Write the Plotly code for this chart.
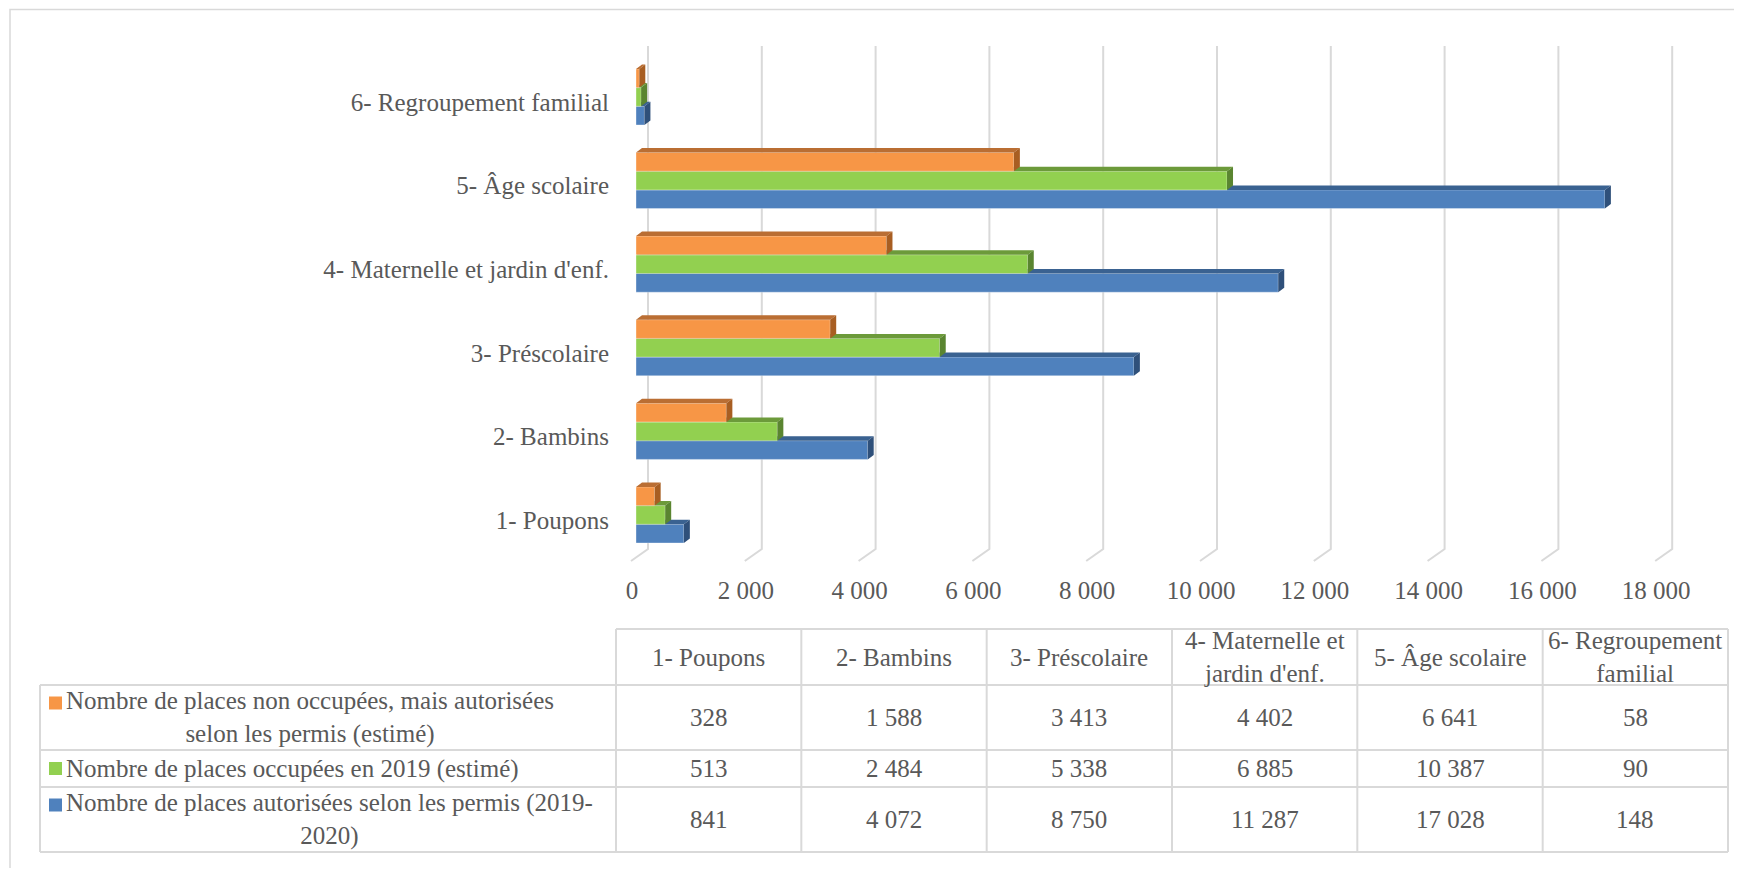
import plotly.graph_objects as go

# ---------------- data ----------------
categories = ["1- Poupons", "2- Bambins", "3- Préscolaire",
              "4- Maternelle et jardin d'enf.", "5- Âge scolaire",
              "6- Regroupement familial"]
table_headers = ["1- Poupons", "2- Bambins", "3- Préscolaire",
                 "4- Maternelle et<br>jardin d'enf.", "5- Âge scolaire",
                 "6- Regroupement<br>familial"]
places_non_occupees = [328, 1588, 3413, 4402, 6641, 58]
places_occupees = [513, 2484, 5338, 6885, 10387, 90]
places_autorisees = [841, 4072, 8750, 11287, 17028, 148]
series_names = [
    "Nombre de places non occupées, mais autorisées<br>selon les permis (estimé)",
    "Nombre de places occupées en 2019 (estimé)",
    "Nombre de places autorisées selon les permis (2019-<br>2020)",
]
x_ticks = [0, 2000, 4000, 6000, 8000, 10000, 12000, 14000, 16000, 18000]

# ---------------- style / layout constants ----------------
OFF = 8                      # page body margin
W, H = 1742 - 2 * OFF, 876 - 2 * OFF
FONT = "Liberation Serif"
FS = 25
TXT = "#595959"
GRID = "#D9D9D9"
X0, S = 636.0, 0.0569      # screen px of value 0 on bar front plane, px per unit
YC0, U = 515.0, 83.6       # screen px of cluster centre of first category, px per category


def xr(px):
    return (px - X0) / S


def yr(py):
    return (YC0 - py) / U


def pxf(px):
    return (px - OFF) / W


def pyf(py):
    return 1 - (py - OFF) / H


BH = 18.7 / U
DX, DY = 6.0 / S, 4.5 / U
series = [
    # values, offset, front, top, side
    (places_autorisees, -0.335, "#4F81BD", "#3A6291", "#2F507A"),
    (places_occupees, -0.335 + BH, "#92D050", "#6C9A3A", "#5A8530"),
    (places_non_occupees, -0.335 + 2 * BH, "#F79646", "#BA6E33", "#A85E22"),
]

fig = go.Figure()

# ---- 3D gridlines (back wall + floor slant) ----
gx, gy = [], []
for t in x_ticks:
    gx += [t + xr(631), t + xr(648), t + xr(648), None]
    gy += [yr(561), yr(549), yr(46), None]
fig.add_trace(go.Scatter(x=gx, y=gy, mode="lines", line=dict(color=GRID, width=2),
                         hoverinfo="skip", showlegend=False, xaxis="x", yaxis="y"))

# ---- bars with 3D faces, one overlay subplot per series ----
idx = list(range(len(categories)))
for k, (vals, off, cf, ct, cs) in enumerate(series):
    ax = str(k + 2)
    fig.add_trace(go.Bar(x=vals, y=idx, orientation="h", width=BH, offset=off,
                         marker=dict(color=cf, line=dict(color="rgba(255,255,255,0.35)", width=1)),
                         hoverinfo="skip", showlegend=False,
                         xaxis="x" + ax, yaxis="y" + ax))
    tx, ty, sx, sy = [], [], [], []
    for i, v in zip(idx, vals):
        yb = i + off
        yt = yb + BH
        tx += [0, v, v + DX, DX, 0, None]
        ty += [yt, yt, yt + DY, yt + DY, yt, None]
        sx += [v, v + DX, v + DX, v, v, None]
        sy += [yb, yb + DY, yt + DY, yt, yb, None]
    fig.add_trace(go.Scatter(x=tx, y=ty, fill="toself", fillcolor=ct, mode="lines",
                             line=dict(width=0, color=ct), hoverinfo="skip", showlegend=False,
                             xaxis="x" + ax, yaxis="y" + ax))
    fig.add_trace(go.Scatter(x=sx, y=sy, fill="toself", fillcolor=cs, mode="lines",
                             line=dict(width=0, color=cs), hoverinfo="skip", showlegend=False,
                             xaxis="x" + ax, yaxis="y" + ax))

# ---------------- axes ----------------
PL, PR, PT, PB = 614, 1732, 40, 566     # screen px of plot area
xdom = [pxf(PL), pxf(PR)]
ydom = [pyf(PB), pyf(PT)]
xrange_ = [xr(PL), xr(PR)]
yrange_ = [yr(PB), yr(PT)]

layout_axes = dict(
    xaxis=dict(domain=xdom, range=xrange_, showgrid=False, zeroline=False, showline=False,
               tickvals=x_ticks, ticktext=[f"{t:,}".replace(",", " ") for t in x_ticks],
               tickfont=dict(family=FONT, size=FS, color=TXT), ticks="",
               ticklabelshift=-4, ticklabelstandoff=7, fixedrange=True),
    yaxis=dict(domain=ydom, range=yrange_, showgrid=False, zeroline=False, showline=False,
               tickvals=idx, ticktext=categories,
               tickfont=dict(family=FONT, size=FS, color=TXT), ticks="",
               ticklabelshift=5, ticklabelstandoff=4, fixedrange=True),
)
for k in range(3):
    a = str(k + 2)
    layout_axes["xaxis" + a] = dict(domain=xdom, range=xrange_, overlaying="x", visible=False,
                                    fixedrange=True)
    layout_axes["yaxis" + a] = dict(domain=ydom, range=yrange_, overlaying="y", visible=False,
                                    fixedrange=True)

# ---------------- data table (own axes) ----------------
TL, TR, TT, TB = 40, 1728, 629, 852     # screen px
CW = (TR - 616) / 6.0


def tx_(px):
    return (px - 616) / CW


row_edges = [0, 56, 121, 158, 223]   # offsets from table top (px)
PADP = 4
layout_axes["xaxis5"] = dict(domain=[pxf(TL - PADP), pxf(TR + PADP)],
                             range=[tx_(TL - PADP), tx_(TR + PADP)], visible=False, fixedrange=True)
layout_axes["yaxis5"] = dict(domain=[pyf(TB + PADP), pyf(TT - PADP)],
                             range=[row_edges[-1] + PADP, -PADP], visible=False, fixedrange=True)

lx, ly = [], []
ncol = len(table_headers)
lx += [0, ncol, None]
ly += [row_edges[0], row_edges[0], None]
for r in row_edges[1:]:
    lx += [tx_(TL), ncol, None]
    ly += [r, r, None]
lx += [tx_(TL), tx_(TL), None]
ly += [row_edges[1], row_edges[-1], None]
for j in range(ncol + 1):
    lx += [j, j, None]
    ly += [row_edges[0], row_edges[-1], None]
fig.add_trace(go.Scatter(x=lx, y=ly, mode="lines", line=dict(color=GRID, width=2),
                         hoverinfo="skip", showlegend=False, xaxis="x5", yaxis="y5"))

annotations = []
tfont = dict(family=FONT, size=FS, color=TXT)
hc = (row_edges[0] + row_edges[1]) / 2
for j, h in enumerate(table_headers):
    annotations.append(dict(x=j + 0.5, y=hc, xref="x5", yref="y5", text=h, showarrow=False,
                            xanchor="center", yanchor="middle", align="center", font=tfont))

table_rows = [places_non_occupees, places_occupees, places_autorisees]
row_colors = ["#F79646", "#92D050", "#4F81BD"]
mx, my, mc = [], [], []
for r, (vals, name, col) in enumerate(zip(table_rows, series_names, row_colors)):
    yc = (row_edges[r + 1] + row_edges[r + 2]) / 2
    for j, v in enumerate(vals):
        annotations.append(dict(x=j + 0.5, y=yc, xref="x5", yref="y5",
                                text=f"{v:,}".replace(",", " "), showarrow=False,
                                xanchor="center", yanchor="middle", font=tfont))
    annotations.append(dict(x=tx_(64), y=yc, xref="x5", yref="y5", text=name, showarrow=False,
                            xanchor="left", yanchor="middle", align="center", font=tfont))
    nlines = name.count("<br>") + 1
    mx.append(tx_(55.5))
    my.append(yc - (nlines - 1) * 14.5)
    mc.append(col)
fig.add_trace(go.Scatter(x=mx, y=my, mode="markers",
                         marker=dict(symbol="square", size=13, color=mc, line=dict(width=0)),
                         hoverinfo="skip", showlegend=False, xaxis="x5", yaxis="y5"))

fig.update_layout(
    width=W, height=H, margin=dict(l=0, r=0, t=0, b=0),
    paper_bgcolor="white", plot_bgcolor="rgba(0,0,0,0)",
    barmode="overlay", showlegend=False,
    font=dict(family=FONT, color=TXT),
    annotations=annotations,
    shapes=[dict(type="rect", xref="paper", yref="paper",
                 x0=pxf(10), x1=1.05, y0=-0.05, y1=pyf(9.5),
                 line=dict(color=GRID, width=1.5), layer="below")],
    **layout_axes,
)

fig.write_html("out.html")
